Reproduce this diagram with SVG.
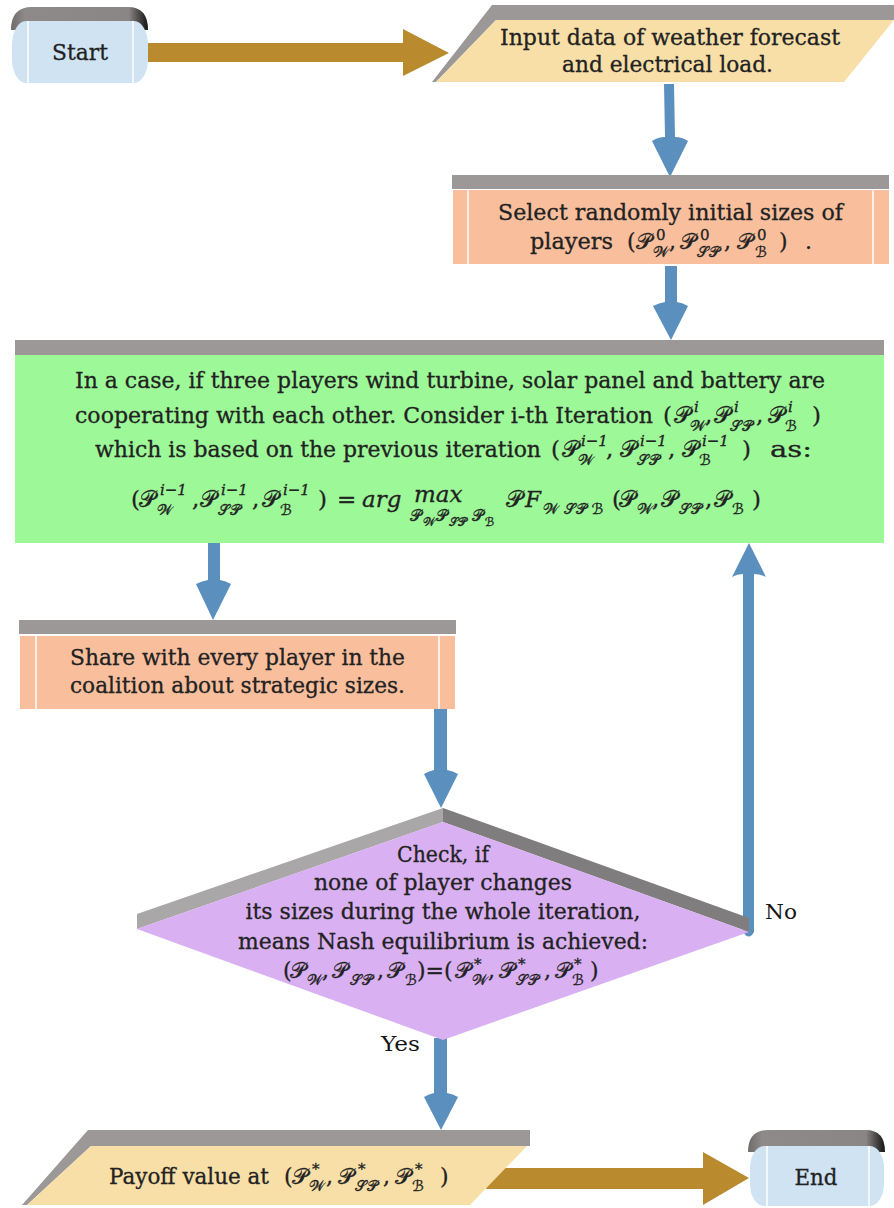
<svg xmlns="http://www.w3.org/2000/svg" width="894" height="1208" viewBox="0 0 894 1208">
  <defs>
    <linearGradient id="capShade" x1="0" y1="0" x2="1" y2="0">
      <stop offset="0" stop-color="#6f6b6a"/>
      <stop offset="0.1" stop-color="#8e8a89"/>
      <stop offset="0.86" stop-color="#8a8685"/>
      <stop offset="1" stop-color="#141414"/>
    </linearGradient>
    <style>
      .cap { fill: #9c9897; }
      .capL { fill: #a9a7a7; }
      .capR { fill: #7f7d7d; }
      .term { fill: #cfe3f3; }
      .io { fill: #f8dfa8; }
      .proc { fill: #f9bf9d; }
      .coop { fill: #9df898; }
      .check { fill: #d9b1f2; }
      .edge { stroke: #ffffff; stroke-width: 1.5; }
      .flow { fill: #5a8fbe; }
      .main { fill: #b98a2e; }
      text { font-family: "DejaVu Serif", "Liberation Serif", serif; fill: #222222; stroke: #222222; stroke-width: 0.3; }
      .t22 { font-size: 22px; }
      .t23 { font-size: 23px; }
      .sc { font-family: "DejaVu Serif", "DejaVu Sans", serif; font-style: normal; }
      .it { font-style: italic; }
      .sm { font-size: 15px; }
      .xs { font-size: 12px; }
      .lbl { font-size: 21px; fill: #151515; stroke: none; }
    </style>
  </defs>

  <!-- connectors -->
  <g id="connectors">
    <path class="main" d="M148,43 H403 V29 L449,53 L403,76 V62 H148 Z"/>
    <path class="flow" d="M664,84 H674 L675,137 Q682,137 688,141 L670,177 L652,141 Q658,137 665,137 Z"/>
    <path class="flow" d="M665,266 H677 V302 Q683,303 688,306 L671,340 L653,306 Q659,303 665,302 Z"/>
    <path class="flow" d="M208,543 H220 V580 Q226,581 231,584 L213,620 L196,584 Q202,581 208,580 Z"/>
    <path class="flow" d="M434,709 H447 V770 Q453,771 458,774 L441,808 L424,774 Q429,771 434,770 Z"/>
    <path class="flow" d="M749,543 L766,577 Q760,574 754,574 V932 Q749,941 743,932 V574 Q737,574 732,577 Z"/>
    <path class="flow" d="M434,1038 H447 V1093 Q453,1094 458,1097 L441,1130 L424,1097 Q429,1094 434,1093 Z"/>
    <path class="main" d="M490,1168 H703 V1152 L749,1178 L703,1205 V1189 H486 Z"/>
    <text class="lbl" x="765" y="919" textLength="32" lengthAdjust="spacingAndGlyphs">No</text>
    <text class="lbl" x="381" y="1051" textLength="39" lengthAdjust="spacingAndGlyphs">Yes</text>
  </g>

  <!-- start terminator -->
  <g id="start">
    <path d="M11,30 Q11,7 32,7 H128 Q148,7 148,30 Z" fill="url(#capShade)"/>
    <rect class="term" x="12" y="21" width="136" height="62" rx="14" ry="24"/>
    <line class="edge" x1="28" y1="21" x2="28" y2="83"/>
    <line class="edge" x1="133" y1="21" x2="133" y2="83"/>
    <text class="t22" x="80" y="60" text-anchor="middle" textLength="56" lengthAdjust="spacingAndGlyphs">Start</text>
  </g>

  <!-- input data -->
  <g id="input">
    <polygon class="cap" points="492,5 894,5 894,20 496,20 436,82 432,82"/>
    <polygon class="io" points="496,20 894,20 844,82 436,82"/>
    <text class="t22" x="500" y="45" textLength="340" lengthAdjust="spacingAndGlyphs">Input data of weather forecast</text>
    <text class="t22" x="562" y="72" textLength="211" lengthAdjust="spacingAndGlyphs">and electrical load.</text>
  </g>

  <!-- initial sizes -->
  <g id="select">
    <rect class="cap" x="452" y="175" width="437" height="14"/>
    <rect class="proc" x="453" y="190" width="436" height="74"/>
    <line class="edge" x1="468" y1="190" x2="468" y2="264"/>
    <line class="edge" x1="873" y1="190" x2="873" y2="264"/>
    <text class="t22" x="498" y="220" textLength="345" lengthAdjust="spacingAndGlyphs">Select randomly initial sizes of</text>
    <text class="t22" x="530" y="249" textLength="83" lengthAdjust="spacingAndGlyphs">players</text>
    <text class="t22">
      <tspan x="627" y="249">(</tspan>
      <tspan class="sc" x="636" y="249">𝒫</tspan>
      <tspan class="sm" x="656" y="240">0</tspan>
      <tspan class="sc sm" x="653" y="257">𝒲</tspan>
      <tspan x="669" y="249">,</tspan>
      <tspan class="sc" x="680" y="249">𝒫</tspan>
      <tspan class="sm" x="700" y="240">0</tspan>
      <tspan class="sc sm" x="697" y="257">𝒮𝒫</tspan>
      <tspan x="724" y="249">,</tspan>
      <tspan class="sc" x="737" y="249">𝒫</tspan>
      <tspan class="sm" x="757" y="240">0</tspan>
      <tspan class="sc sm" x="755" y="257">ℬ</tspan>
      <tspan x="779" y="249">)</tspan>
      <tspan x="805" y="249">.</tspan>
    </text>
  </g>

  <!-- cooperative iteration -->
  <g id="iteration">
    <rect class="cap" x="15" y="340" width="869" height="15"/>
    <rect class="coop" x="15" y="355" width="869" height="188"/>
    <text class="t23" x="75" y="388" textLength="750" lengthAdjust="spacingAndGlyphs">In a case, if three players wind turbine, solar panel and battery are</text>
    <text class="t22" x="75" y="423" textLength="578" lengthAdjust="spacingAndGlyphs">cooperating with each other. Consider i-th Iteration</text>
    <text class="t23">
      <tspan x="663" y="423">(</tspan>
      <tspan class="sc" x="674" y="423">𝒫</tspan>
      <tspan class="it sm" x="694" y="412">i</tspan>
      <tspan class="sc sm" x="690" y="431">𝒲</tspan>
      <tspan x="705" y="423">,</tspan>
      <tspan class="sc" x="714" y="423">𝒫</tspan>
      <tspan class="it sm" x="734" y="412">i</tspan>
      <tspan class="sc sm" x="730" y="431">𝒮𝒫</tspan>
      <tspan x="756" y="423">,</tspan>
      <tspan class="sc" x="768" y="423">𝒫</tspan>
      <tspan class="it sm" x="788" y="412">i</tspan>
      <tspan class="sc sm" x="785" y="431">ℬ</tspan>
      <tspan x="812" y="423">)</tspan>
    </text>
    <text class="t22" x="95" y="457" textLength="446" lengthAdjust="spacingAndGlyphs">which is based on the previous iteration</text>
    <text class="t23">
      <tspan x="551" y="457">(</tspan>
      <tspan class="sc" x="562" y="457">𝒫</tspan>
      <tspan class="it sm" x="581" y="446">i−1</tspan>
      <tspan class="sc sm" x="578" y="465">𝒲</tspan>
      <tspan x="606" y="457">,</tspan>
      <tspan class="sc" x="620" y="457">𝒫</tspan>
      <tspan class="it sm" x="640" y="446">i−1</tspan>
      <tspan class="sc sm" x="637" y="465">𝒮𝒫</tspan>
      <tspan x="668" y="457">,</tspan>
      <tspan class="sc" x="682" y="457">𝒫</tspan>
      <tspan class="it sm" x="702" y="446">i−1</tspan>
      <tspan class="sc sm" x="699" y="465">ℬ</tspan>
      <tspan x="742" y="457">)</tspan>
    </text>
    <text class="t23" x="770" y="457" textLength="42" lengthAdjust="spacingAndGlyphs">as:</text>
    <text class="t23">
      <tspan x="131" y="507">(</tspan>
      <tspan class="sc" x="139" y="507">𝒫</tspan>
      <tspan class="it sm" x="160" y="495">i−1</tspan>
      <tspan class="sc sm" x="157" y="515">𝒲</tspan>
      <tspan x="192" y="507">,</tspan>
      <tspan class="sc" x="200" y="507">𝒫</tspan>
      <tspan class="it sm" x="221" y="495">i−1</tspan>
      <tspan class="sc sm" x="218" y="515">𝒮𝒫</tspan>
      <tspan x="252" y="507">,</tspan>
      <tspan class="sc" x="262" y="507">𝒫</tspan>
      <tspan class="it sm" x="283" y="495">i−1</tspan>
      <tspan class="sc sm" x="280" y="515">ℬ</tspan>
      <tspan x="318" y="507">)</tspan>
      <tspan x="337" y="507">=</tspan>
      <tspan class="it" x="362" y="507">arg</tspan>
      <tspan class="it" x="414" y="502">max</tspan>
      <tspan class="sc" style="font-size:16px" x="410" y="521">𝒫</tspan>
      <tspan class="sc xs" x="423" y="526">𝒲</tspan>
      <tspan class="sc" style="font-size:16px" x="436" y="521">𝒫</tspan>
      <tspan class="sc xs" x="449" y="526">𝒮𝒫</tspan>
      <tspan class="sc" style="font-size:16px" x="472" y="521">𝒫</tspan>
      <tspan class="sc xs" x="485" y="526">ℬ</tspan>
      <tspan class="sc" x="506" y="507">𝒫</tspan>
      <tspan class="it" x="525" y="507">F</tspan>
      <tspan class="sc sm" x="543" y="514">𝒲 𝒮𝒫 ℬ</tspan>
      <tspan x="612" y="507">(</tspan>
      <tspan class="sc" x="619" y="507">𝒫</tspan>
      <tspan class="sc sm" x="637" y="514">𝒲</tspan>
      <tspan x="652" y="507">,</tspan>
      <tspan class="sc" x="661" y="507">𝒫</tspan>
      <tspan class="sc sm" x="679" y="514">𝒮𝒫</tspan>
      <tspan x="705" y="507">,</tspan>
      <tspan class="sc" x="714" y="507">𝒫</tspan>
      <tspan class="sc sm" x="732" y="514">ℬ</tspan>
      <tspan x="752" y="507">)</tspan>
    </text>
  </g>

  <!-- share sizes -->
  <g id="share">
    <rect class="cap" x="19" y="620" width="437" height="14"/>
    <rect class="proc" x="20" y="636" width="435" height="73"/>
    <line class="edge" x1="36" y1="636" x2="36" y2="709"/>
    <line class="edge" x1="439" y1="636" x2="439" y2="709"/>
    <text class="t22" x="70" y="665" textLength="335" lengthAdjust="spacingAndGlyphs">Share with every player in the</text>
    <text class="t22" x="70" y="693" textLength="335" lengthAdjust="spacingAndGlyphs">coalition about strategic sizes.</text>
  </g>

  <!-- equilibrium check -->
  <g id="check">
    <polygon class="capL" points="137,914 443,808 443,822 137,929"/>
    <polygon class="capR" points="443,808 749,918 749,932 443,822"/>
    <polygon class="check" points="443,822 749,932 443,1040 137,929"/>
    <text class="t22" x="443" y="862" text-anchor="middle" textLength="92" lengthAdjust="spacingAndGlyphs">Check, if</text>
    <text class="t22" x="443" y="890" text-anchor="middle" textLength="258" lengthAdjust="spacingAndGlyphs">none of player changes</text>
    <text class="t22" x="443" y="919" text-anchor="middle" textLength="395" lengthAdjust="spacingAndGlyphs">its sizes during the whole iteration,</text>
    <text class="t22" x="443" y="949" text-anchor="middle" textLength="410" lengthAdjust="spacingAndGlyphs">means Nash equilibrium is achieved:</text>
    <text class="t22">
      <tspan x="283" y="978">(</tspan>
      <tspan class="sc" x="290" y="978">𝒫</tspan>
      <tspan class="sc sm" x="307" y="985">𝒲</tspan>
      <tspan x="322" y="978">,</tspan>
      <tspan class="sc" x="332" y="978">𝒫</tspan>
      <tspan class="sc sm" x="350" y="985">𝒮𝒫</tspan>
      <tspan x="377" y="978">,</tspan>
      <tspan class="sc" x="387" y="978">𝒫</tspan>
      <tspan class="sc sm" x="405" y="985">ℬ</tspan>
      <tspan x="417" y="978">)=(</tspan>
      <tspan class="sc" x="455" y="978">𝒫</tspan>
      <tspan class="sm" x="474" y="969">*</tspan>
      <tspan class="sc sm" x="472" y="985">𝒲</tspan>
      <tspan x="488" y="978">,</tspan>
      <tspan class="sc" x="499" y="978">𝒫</tspan>
      <tspan class="sm" x="518" y="969">*</tspan>
      <tspan class="sc sm" x="516" y="985">𝒮𝒫</tspan>
      <tspan x="544" y="978">,</tspan>
      <tspan class="sc" x="555" y="978">𝒫</tspan>
      <tspan class="sm" x="574" y="969">*</tspan>
      <tspan class="sc sm" x="572" y="985">ℬ</tspan>
      <tspan x="590" y="978">)</tspan>
    </text>
  </g>

  <!-- payoff output -->
  <g id="payoff">
    <polygon class="cap" points="88,1130 530,1130 530,1146 91,1146 27,1205 22,1205"/>
    <polygon class="io" points="91,1146 527,1146 470,1205 27,1205"/>
    <text class="t22" x="109" y="1184" textLength="160" lengthAdjust="spacingAndGlyphs">Payoff value at</text>
    <text class="t22">
      <tspan x="284" y="1184">(</tspan>
      <tspan class="sc" x="292" y="1184">𝒫</tspan>
      <tspan class="sm" x="312" y="1174">*</tspan>
      <tspan class="sc sm" x="309" y="1191">𝒲</tspan>
      <tspan x="326" y="1184">,</tspan>
      <tspan class="sc" x="338" y="1184">𝒫</tspan>
      <tspan class="sm" x="358" y="1174">*</tspan>
      <tspan class="sc sm" x="355" y="1191">𝒮𝒫</tspan>
      <tspan x="383" y="1184">,</tspan>
      <tspan class="sc" x="395" y="1184">𝒫</tspan>
      <tspan class="sm" x="415" y="1174">*</tspan>
      <tspan class="sc sm" x="412" y="1191">ℬ</tspan>
      <tspan x="440" y="1184">)</tspan>
    </text>
  </g>

  <!-- end terminator -->
  <g id="end">
    <path d="M748,1152 Q748,1130 768,1130 H866 Q885,1130 885,1152 Z" fill="url(#capShade)"/>
    <rect class="term" x="750" y="1146" width="134" height="60" rx="14" ry="22"/>
    <line class="edge" x1="767" y1="1146" x2="767" y2="1206"/>
    <line class="edge" x1="869" y1="1146" x2="869" y2="1206"/>
    <text class="t22" x="816" y="1185" text-anchor="middle" textLength="43" lengthAdjust="spacingAndGlyphs">End</text>
  </g>
</svg>
